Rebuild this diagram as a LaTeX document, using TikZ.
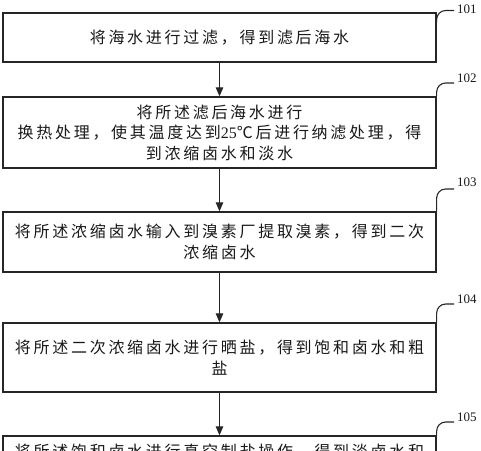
\documentclass[tikz,border=0pt]{standalone}
\usepackage{fontspec}
\newfontfamily\cjk[LetterSpace=17]{Noto Sans CJK SC}
\newfontfamily\numfont{Liberation Serif}
\usetikzlibrary{arrows.meta,calc}
\begin{document}
\begin{tikzpicture}[x=1pt,y=-1pt,
  stepbox/.style={draw=black!85, line width=1.3pt, minimum width=433pt, inner sep=0pt,
    font=\cjk\fontsize{16}{20.5}\selectfont, align=center, text=black!90},
  flow/.style={line width=1.1pt, draw=black!85, -{Triangle[length=9pt,width=7.5pt]}},
  leader/.style={line width=1.1pt, draw=black!85, rounded corners=9pt},
  reflabel/.style={font=\numfont\fontsize{13}{13}\selectfont, anchor=west, inner sep=0pt, text=black!90}
]
\useasboundingbox (0,0) rectangle (481,450);
\clip (0,0) rectangle (481,450);

\node[stepbox, minimum height=49pt] (s1) at (219.5,37.5) {将海水进行过滤，得到滤后海水};
\node[stepbox, minimum height=71pt] (s2) at (219.5,132.5) {将所述滤后海水进行\\换热处理，使其温度达到{\numfont 25}℃后进行纳滤处理，得\\到浓缩卤水和淡水};
\node[stepbox, minimum height=60pt] (s3) at (219.5,242) {将所述浓缩卤水输入到溴素厂提取溴素，得到二次\\浓缩卤水};
\node[stepbox, minimum height=69pt] (s4) at (219.5,357.5) {将所述二次浓缩卤水进行晒盐，得到饱和卤水和粗\\盐};
\node[stepbox, minimum height=32pt] (s5) at (219.5,452) {将所述饱和卤水进行真空制盐操作，得到淡卤水和};

\draw[flow] (s1.south) -- (s2.north);
\draw[flow] (s2.south) -- (s3.north);
\draw[flow] (s3.south) -- (s4.north);
\draw[flow] (s4.south) -- (s5.north);

\node[reflabel] (l1) at (457,9.5) {101};
\node[reflabel] (l2) at (457,78) {102};
\node[reflabel] (l3) at (457,182) {103};
\node[reflabel] (l4) at (457,299) {104};
\node[reflabel] (l5) at (457,417) {105};
\coordinate (c1) at (454,10.5);
\coordinate (c2) at (454,83);
\coordinate (c3) at (454,189);
\coordinate (c4) at (454,304);
\coordinate (c5) at (454,422);

\draw[leader] ($(s1.north east)+(0,10)$) |- (c1);
\draw[leader] (s2.north east) |- (c2);
\draw[leader] (s3.north east) |- (c3);
\draw[leader] (s4.north east) |- (c4);
\draw[leader] (s5.north east) |- (c5);
\end{tikzpicture}
\end{document}
